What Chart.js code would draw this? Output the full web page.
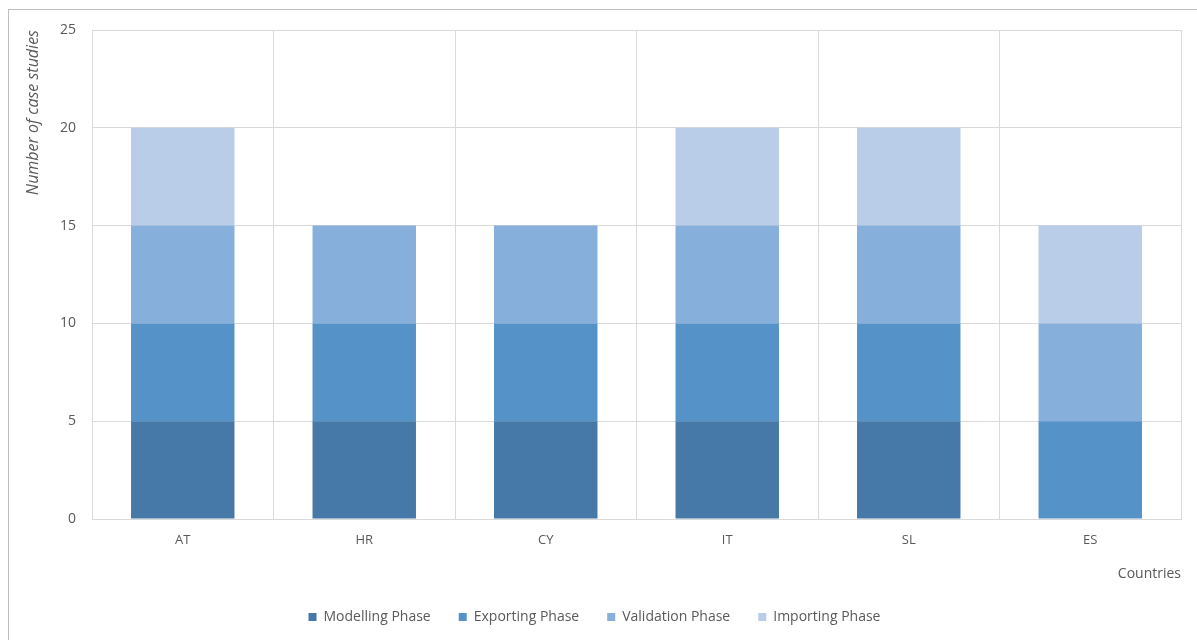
<!DOCTYPE html>
<html>
<head>
<meta charset="utf-8">
<script src="https://cdn.jsdelivr.net/npm/chart.js@4.4.1/dist/chart.umd.min.js"></script>
<style>
  html, body { margin: 0; padding: 0; background: #fff; }
  #wrap { position: relative; width: 1197px; height: 640px; overflow: hidden; }
  #frame { position: absolute; left: 8px; top: 9px; width: 1300px; height: 700px;
           border-top: 1px solid #bfbfbf; border-left: 1px solid #bfbfbf; }
  canvas { position: absolute; left: 0; top: 0; }
</style>
</head>
<body>
<div id="wrap">
  <div id="frame"></div>
  <canvas id="c" width="1197" height="640"></canvas>
</div>
<script>
const countries = ["AT", "HR", "CY", "IT", "SL", "ES"];
const modelling  = [5, 5, 5, 5, 5, 0];
const exporting  = [5, 5, 5, 5, 5, 5];
const validation = [5, 5, 5, 5, 5, 5];
const importing  = [5, 0, 0, 5, 5, 5];
const yTicks = [0, 5, 10, 15, 20, 25];

const FONT = "'Open Sans', 'DejaVu Sans', sans-serif";
const GREY = "#595959";
const GRID = "#d9d9d9";

function series(label, data, color) {
  return { label, data, backgroundColor: color, borderWidth: 0,
           categoryPercentage: 1, barPercentage: 0.57 };
}

new Chart(document.getElementById("c"), {
  type: "bar",
  data: {
    labels: countries,
    datasets: [
      series("Modelling Phase", modelling, "#4679a8"),
      series("Exporting Phase", exporting, "#5592c8"),
      series("Validation Phase", validation, "#86afdc"),
      series("Importing Phase", importing, "#b9cde8")
    ]
  },
  options: {
    responsive: false,
    animation: false,
    layout: { padding: { left: 8, right: 16, top: 30, bottom: 6 } },
    plugins: {
      tooltip: { enabled: false },
      legend: {
        position: "bottom",
        labels: {
          font: { family: FONT, size: 14 },
          color: GREY,
          boxWidth: 8, boxHeight: 8,
          padding: 28
        }
      }
    },
    scales: {
      x: {
        stacked: true,
        grid: { color: GRID, offset: true, drawTicks: false },
        border: { color: GRID },
        ticks: { font: { family: FONT, size: 13 }, color: GREY, padding: 13 },
        title: { display: true, text: "Countries", align: "end",
                 font: { family: FONT, size: 14 }, color: GREY, padding: { top: 17, bottom: 0 } },
        afterFit: s => { s.height = 63; }
      },
      y: {
        stacked: true,
        min: 0, max: 25,
        afterBuildTicks: s => { s.ticks = yTicks.map(v => ({ value: v })); },
        grid: { color: GRID, drawTicks: false },
        border: { color: GRID },
        ticks: { font: { family: FONT, size: 14 }, color: GREY, padding: 16 },
        title: { display: true, text: "Number of case studies", align: "end",
                 font: { family: FONT, size: 16, style: "italic" }, color: GREY,
                 padding: { top: 16, bottom: 0 } },
        afterFit: s => { s.width = 84; }
      }
    }
  }
});
</script>
</body>
</html>
